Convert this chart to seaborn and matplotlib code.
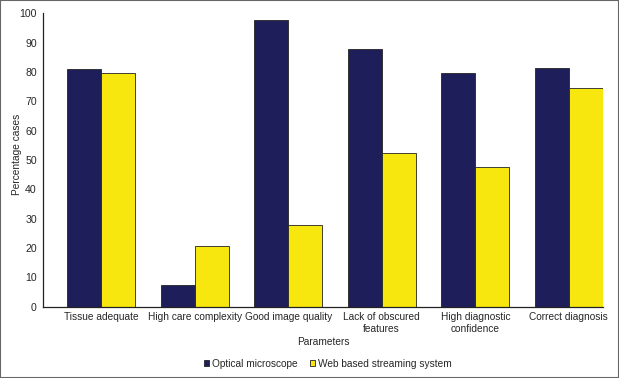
import matplotlib
matplotlib.use("Agg")
import matplotlib.pyplot as plt
import seaborn as sns
import pandas as pd
from matplotlib.patches import Rectangle

categories = ["Tissue adequate", "High care complexity", "Good image quality",
              "Lack of obscured\nfeatures", "High diagnostic\nconfidence", "Correct diagnosis"]
optical = [81.0, 7.4, 97.8, 88.0, 79.8, 81.3]
web = [79.5, 20.8, 27.7, 52.5, 47.7, 74.5]
series = ["Optical microscope", "Web based streaming system"]
colors = ["#1E1E5A", "#F7E70E"]

df = pd.DataFrame({
    "Parameters": categories * 2,
    "value": optical + web,
    "series": [series[0]] * len(categories) + [series[1]] * len(categories),
})

sns.set_style("white")
plt.rcParams["font.family"] = ["Liberation Sans", "DejaVu Sans"]
fs = 7.3

fig = plt.figure(figsize=(6.19, 3.78), dpi=100)
ax = fig.add_axes([43 / 619, 1 - 306.7 / 378, (603 - 43) / 619, (306.7 - 13.3) / 378])

sns.barplot(data=df, x="Parameters", y="value", hue="series", palette=colors,
            width=0.727, edgecolor="#222222", linewidth=0.6, saturation=1,
            ax=ax, legend=True)

ax.set_xlim(-0.62, 5.365)
ax.set_ylim(0, 100)
ax.set_yticks(range(0, 101, 10))
ax.tick_params(axis="y", direction="inout", length=5, width=0.8, labelsize=7.6, color="#222222", pad=2)
ax.tick_params(axis="x", length=0, labelsize=fs, pad=4)
for s in ["top", "right"]:
    ax.spines[s].set_visible(False)
for s in ["left", "bottom"]:
    ax.spines[s].set_color("#222222")
    ax.spines[s].set_linewidth(0.9)
ax.set_ylabel("Percentage cases", fontsize=fs, labelpad=4)
ax.yaxis.set_label_coords(-0.038, 0.52)
ax.set_xlabel("Parameters", fontsize=fs, labelpad=2)

handles, labels = ax.get_legend_handles_labels()
ax.get_legend().remove()
fig.legend(handles, labels, loc="center", bbox_to_anchor=(0.53, 0.038), ncol=2,
           frameon=False, fontsize=fs, handlelength=0.5, handleheight=0.5,
           handletextpad=0.3, columnspacing=1.2)

fig.patches.append(Rectangle((0, 0), 1, 1, transform=fig.transFigure, fill=False,
                             edgecolor="#666666", linewidth=1.5))

fig.savefig("out.png", dpi=100)
